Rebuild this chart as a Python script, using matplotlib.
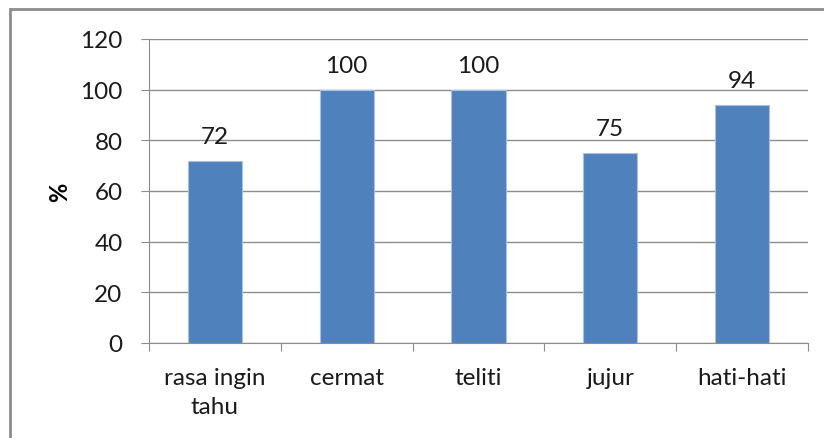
import matplotlib.pyplot as plt
from matplotlib.patches import Rectangle

# Data
categories = ['rasa ingin\ntahu', 'cermat', 'teliti', 'jujur', 'hati-hati']
values = [72, 100, 100, 75, 94]
yticks = [0, 20, 40, 60, 80, 100, 120]

plt.rcParams['font.family'] = ['Lato', 'DejaVu Sans']
FS = 17.5

fig = plt.figure(figsize=(8.24, 4.39), dpi=100)
ax = fig.add_axes([149 / 824, 1 - 344 / 439, 659 / 824, 304 / 439])

# outer chart frame (cut off at right and bottom)
fig.patches.append(Rectangle((10 / 824, -0.1), 1.2, 1 - 10 / 439 + 0.1,
                             transform=fig.transFigure, fill=False,
                             edgecolor='#8c8c8c', linewidth=2))

x = range(len(categories))
bars = ax.bar(x, values, width=0.41, color='#4F81BD', edgecolor='#a9c0e0',
              linewidth=0.8, zorder=3)

for xi, v in zip(x, values):
    ax.annotate(str(v), (xi, v), xytext=(0, 13), textcoords='offset points',
                ha='center', va='baseline', fontsize=FS, color='#1a1a1a')

ax.set_xlim(-0.5, len(categories) - 0.5)
ax.set_ylim(0, 120)
ax.set_yticks(yticks)
ax.yaxis.grid(True, color='#8c8c8c', linewidth=1, zorder=0)
ax.set_axisbelow(True)

ax.set_xticks([i - 0.5 for i in range(len(categories) + 1)], minor=False)
ax.set_xticklabels([])
ax.set_xticks(list(x), minor=True)
ax.set_xticklabels(categories, minor=True, fontsize=FS, color='#1a1a1a',
                   linespacing=1.5)
ax.tick_params(axis='x', which='major', length=6, color='#8c8c8c', direction='out')
ax.tick_params(axis='x', which='minor', length=0, pad=17)
ax.tick_params(axis='y', length=6, color='#8c8c8c', labelsize=FS,
               labelcolor='#1a1a1a', pad=13)

for side in ['top', 'right']:
    ax.spines[side].set_visible(False)
for side in ['left', 'bottom']:
    ax.spines[side].set_color('#8c8c8c')

fig.text(60 / 824, 1 - 192 / 439, '%', rotation=90, fontsize=17, fontweight='bold',
         ha='center', va='center')

fig.savefig('out.png', dpi=100)
